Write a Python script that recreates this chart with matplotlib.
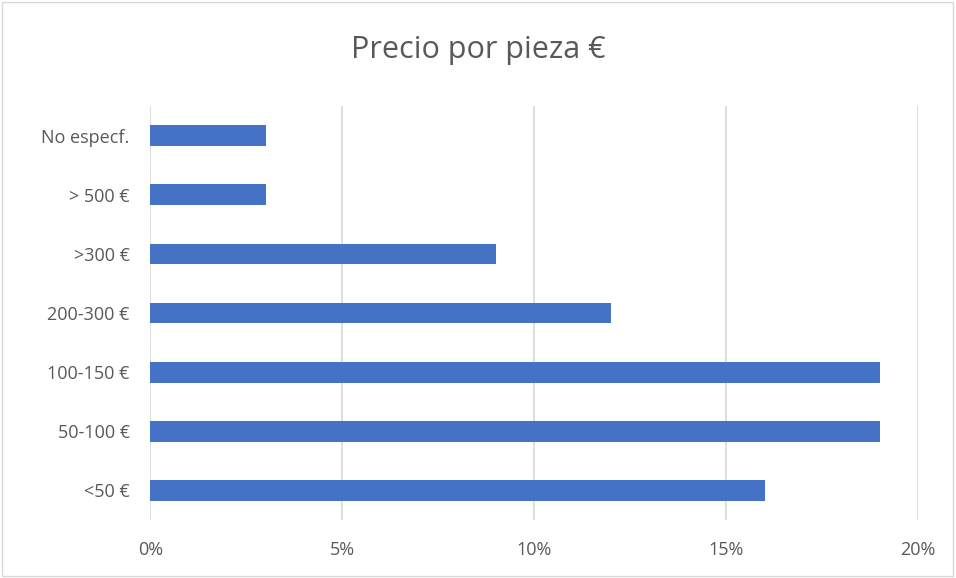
import matplotlib.pyplot as plt
from matplotlib.patches import Rectangle

categories = ["<50 €", "50-100 €", "100-150 €", "200-300 €", ">300 €", "> 500 €", "No especf."]
values = [16, 19, 19, 12, 9, 3, 3]  # percent
xticks = [0, 5, 10, 15, 20]

plt.rcParams['font.family'] = ['Open Sans', 'DejaVu Sans']

fig = plt.figure(figsize=(9.56, 5.78), dpi=100)
ax = fig.add_axes([0.1574, 0.1003, 0.8029, 0.7163])

ax.barh(range(len(categories)), values, height=0.35, color='#4472C4', zorder=3)

ax.set_xlim(0, 20)
ax.set_ylim(-0.5, len(categories) - 0.5)
ax.set_xticks(xticks)
ax.set_xticklabels([f"{t}%" for t in xticks])
ax.set_yticks(range(len(categories)))
ax.set_yticklabels(categories)
ax.tick_params(axis='both', length=0, labelsize=13, colors='#595959')
ax.tick_params(axis='y', pad=15)
ax.tick_params(axis='x', pad=15)
ax.xaxis.grid(True, color='#D9D9D9', linewidth=1.2, zorder=0)
for s in ax.spines.values():
    s.set_visible(False)

fig.text(0.5, 0.913, "Precio por pieza €", ha='center', va='center', fontsize=22, color='#595959')
fig.patches.append(Rectangle((0.002, 0.003), 0.995, 0.994, transform=fig.transFigure,
                             fill=False, edgecolor='#D9D9D9', linewidth=1))

plt.savefig("out.png", dpi=100)
